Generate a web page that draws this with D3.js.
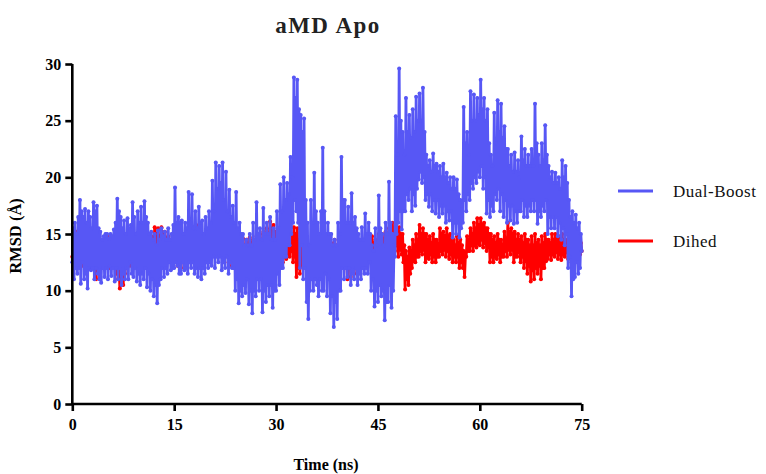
<!DOCTYPE html>
<html>
<head>
<meta charset="utf-8">
<script src="https://cdn.jsdelivr.net/npm/d3@7/dist/d3.min.js"></script>
<style>
  html, body { margin: 0; padding: 0; background: #fff; }
  svg { display: block; }
</style>
</head>
<body>
<svg id="chart" width="766" height="474"></svg>
<script>
// RMSD traces sampled every 0.125 ns from 0 to 75 ns (8 samples per ns per row)
const timeStep = 0.125;

const dualBoost = [
  12.5, 15.5, 11.0, 16.0, 12.0, 15.0, 11.5, 16.5,
  12.0, 18.0, 10.6, 17.0, 12.5, 16.5, 11.0, 17.2,
  11.5, 16.0, 10.2, 17.0, 12.0, 16.5, 11.8, 15.5,
  12.0, 17.8, 11.0, 17.0, 12.0, 17.5, 11.5, 15.5,
  11.0, 15.2, 10.7, 14.5, 12.0, 14.8, 11.2, 15.0,
  12.0, 15.0, 11.0, 14.6, 12.2, 15.0, 11.3, 14.8,
  12.0, 15.4, 10.8, 16.0, 12.0, 18.1, 11.0, 17.0,
  12.0, 16.5, 10.5, 15.5, 11.5, 16.2, 11.0, 15.0,
  12.0, 16.4, 11.0, 15.5, 12.5, 15.8, 11.5, 17.8,
  11.2, 16.5, 12.0, 15.0, 10.8, 17.0, 11.5, 16.0,
  10.5, 17.4, 11.5, 16.0, 11.0, 17.9, 12.0, 16.5,
  10.3, 16.0, 11.5, 15.0, 10.0, 15.2, 11.0, 14.5,
   9.5, 15.0, 10.5, 14.0,  8.9, 15.3, 10.5, 14.5,
  11.0, 15.5, 12.0, 14.8, 11.2, 15.2, 12.0, 14.5,
  11.5, 15.5, 12.5, 14.5, 11.8, 15.0, 12.0, 15.8,
  12.0, 19.1, 12.5, 16.0, 12.2, 16.5, 11.5, 16.0,
  11.5, 16.2, 12.5, 15.0, 11.8, 16.0, 12.0, 15.5,
  11.5, 18.7, 12.5, 16.0, 12.0, 18.5, 12.5, 15.5,
  11.5, 17.0, 12.0, 15.5, 11.2, 17.4, 12.0, 16.0,
  11.0, 16.2, 12.0, 15.0, 11.5, 16.5, 12.5, 15.5,
  12.0, 17.0, 12.5, 16.0, 12.2, 19.7, 13.0, 17.0,
  12.0, 21.3, 13.0, 19.0, 12.5, 21.0, 13.0, 19.5,
  11.8, 21.3, 12.5, 18.0, 12.0, 20.5, 13.0, 17.0,
  11.5, 18.9, 12.5, 16.5, 12.0, 17.5, 12.0, 16.0,
  10.0, 18.7, 11.0, 15.5,  8.9, 16.0, 10.0, 15.0,
   9.5, 15.0, 10.5, 14.0,  9.8, 14.5, 11.0, 14.0,
   8.8, 15.0, 10.0, 14.0,  8.0, 16.0, 10.0, 14.5,
   9.5, 17.8, 11.0, 15.0, 10.0, 15.5, 11.0, 14.5,
   8.1, 17.3, 10.0, 15.0,  9.0, 16.0, 10.5, 15.0,
   9.5, 16.5, 10.5, 14.5,  8.5, 15.5, 10.0, 14.5,
  10.0, 17.0, 11.5, 15.5, 10.5, 19.4, 12.0, 17.0,
  12.0, 20.0, 13.0, 18.0, 13.0, 19.5, 14.0, 18.5,
  14.0, 21.8, 15.0, 20.0, 16.0, 28.8, 18.0, 27.0,
  17.0, 28.6, 16.0, 26.0, 12.0, 25.5, 14.0, 24.0,
  11.0, 25.2, 12.0, 18.0,  9.0, 16.0,  7.5, 14.0,
  10.0, 18.0, 11.0, 16.0, 10.0, 20.4, 11.0, 17.0,
  10.5, 16.0,  9.5, 15.0, 11.0, 17.0, 10.0, 22.6,
  10.0, 17.0, 11.5, 15.0,  9.5, 16.0, 11.0, 15.0,
   8.0, 15.0,  9.5, 14.0,  6.8, 14.5,  9.0, 14.0,
   7.5, 16.0, 10.0, 15.0, 10.0, 21.8, 12.0, 18.0,
  11.0, 18.0, 12.0, 16.0, 11.2, 17.4, 12.0, 16.0,
  10.5, 18.6, 11.5, 16.0, 11.0, 16.5, 12.0, 15.5,
  10.5, 15.0, 11.5, 14.5, 11.0, 15.6, 12.0, 14.5,
  11.5, 16.8, 12.0, 15.0, 11.5, 16.0, 12.5, 15.0,
  10.0, 14.0, 11.0, 13.5,  8.6, 15.5, 10.0, 14.0,
   9.0, 18.4, 10.5, 15.5,  9.5, 15.0, 10.0, 14.0,
   7.4, 16.0,  9.0, 15.0,  9.0, 19.6, 10.5, 16.0,
   8.5, 15.0, 10.0, 14.0, 13.0, 25.4, 15.0, 22.0,
  16.0, 29.6, 17.0, 25.0, 15.4, 24.0, 17.0, 22.0,
  17.0, 27.0, 18.5, 24.0, 18.0, 25.5, 19.0, 23.5,
  17.0, 26.0, 18.5, 24.0, 17.5, 27.1, 19.0, 25.0,
  19.8, 27.4, 20.5, 25.0, 19.5, 27.9, 20.0, 24.0,
  18.0, 22.0, 18.5, 21.0, 17.4, 21.5, 18.5, 20.5,
  17.0, 22.1, 18.0, 21.0, 16.8, 21.2, 18.0, 20.5,
  16.5, 21.0, 17.5, 20.0, 16.8, 21.2, 17.5, 20.0,
  16.0, 20.4, 17.0, 19.5, 16.2, 20.0, 17.0, 19.0,
  14.7, 20.0, 16.0, 19.0, 15.0, 19.8, 16.0, 18.5,
  14.7, 18.0, 15.5, 17.5, 16.0, 26.2, 18.0, 23.0,
  17.0, 24.0, 18.5, 22.0, 18.0, 27.6, 19.5, 25.0,
  19.0, 27.3, 20.0, 25.0, 19.5, 27.0, 20.5, 25.5,
  20.0, 28.6, 21.0, 26.0, 19.0, 27.0, 20.0, 25.0,
  16.8, 26.0, 18.0, 23.0, 16.5, 22.0, 17.5, 21.0,
  17.0, 25.7, 18.5, 23.0, 18.0, 26.8, 19.0, 24.0,
  17.0, 26.5, 18.5, 23.5, 16.5, 24.5, 18.0, 22.5,
  16.0, 22.5, 17.5, 21.0, 16.2, 22.0, 17.5, 20.5,
  15.9, 22.2, 17.0, 20.5, 16.0, 21.5, 17.0, 20.0,
  17.0, 23.6, 18.0, 21.5, 16.5, 22.5, 17.5, 21.0,
  16.5, 22.0, 17.5, 21.0, 17.0, 22.5, 18.0, 21.0,
  17.0, 26.5, 18.0, 23.0, 15.9, 22.0, 17.0, 21.0,
  16.5, 23.0, 17.5, 21.5, 17.0, 24.6, 18.0, 22.0,
  15.0, 21.0, 16.5, 20.0, 15.5, 20.5, 16.5, 19.5,
  15.5, 20.4, 16.5, 19.5, 14.8, 20.0, 16.0, 19.0,
  14.5, 21.5, 15.5, 20.0, 14.0, 21.0, 15.0, 19.5,
  12.0, 18.0, 13.0, 16.5,  9.5, 17.0, 11.0, 16.0,
  11.2, 16.7, 12.5, 15.5, 11.5, 16.0, 12.0, 15.0,
  13.5
];

const dihed = [
  13.0, 15.0, 13.5, 14.5, 12.5, 15.2, 13.2, 14.5,
  12.5, 14.8, 13.0, 14.2, 12.2, 15.0, 13.0, 14.5,
  12.8, 14.5, 13.2, 14.0, 12.0, 14.0, 12.8, 13.8,
  12.1, 13.9, 12.5, 13.5, 11.0, 13.5, 11.8, 13.2,
  11.2, 14.0, 12.5, 13.8, 12.0, 14.5, 12.8, 14.0,
  12.5, 14.8, 13.0, 14.2, 12.0, 14.2, 12.8, 13.8,
  12.5, 14.5, 12.8, 13.8, 11.5, 13.0, 11.0, 12.5,
  10.2, 12.4, 10.8, 12.0, 10.5, 13.0, 11.5, 12.8,
  12.0, 14.0, 12.5, 13.5, 12.2, 13.8, 12.6, 13.4,
  12.0, 14.0, 12.5, 13.6, 12.3, 14.5, 12.8, 14.0,
  12.5, 14.8, 13.0, 14.2, 12.0, 15.0, 12.8, 14.5,
  12.5, 14.5, 13.0, 14.0, 12.2, 14.8, 13.0, 14.2,
  12.8, 15.6, 13.5, 15.0, 13.0, 15.5, 13.5, 14.8,
  13.2, 15.6, 13.8, 15.0, 13.0, 15.2, 13.5, 14.6,
  12.5, 14.8, 13.0, 14.2, 12.8, 14.5, 13.2, 14.0,
  12.5, 15.0, 13.0, 14.5, 12.2, 14.8, 12.8, 14.2,
  12.0, 14.5, 12.8, 14.0, 12.5, 15.0, 13.0, 14.4,
  12.5, 14.8, 13.0, 14.2, 12.8, 15.2, 13.4, 14.6,
  13.0, 15.5, 13.5, 15.0, 13.2, 15.8, 13.6, 15.0,
  12.8, 15.0, 13.2, 14.5, 12.5, 14.8, 13.0, 14.2,
  12.5, 15.0, 13.0, 14.5, 13.0, 15.2, 13.5, 14.8,
  13.5, 15.9, 14.0, 15.2, 13.5, 15.8, 14.0, 15.2,
  13.5, 15.5, 13.8, 15.0, 13.0, 15.0, 13.4, 14.5,
  12.5, 14.8, 13.0, 14.2, 12.2, 14.5, 12.8, 14.0,
  12.0, 14.5, 12.6, 14.0, 12.5, 14.8, 13.0, 14.2,
  12.5, 14.6, 13.0, 14.0, 12.8, 14.5, 13.2, 14.0,
  13.0, 14.7, 13.4, 14.2, 12.5, 14.5, 13.0, 14.0,
  12.5, 14.8, 13.0, 14.4, 12.8, 15.0, 13.3, 14.5,
  13.0, 15.2, 13.5, 14.8, 13.2, 15.5, 13.8, 15.0,
  14.0, 16.1, 14.5, 15.5, 14.0, 15.8, 14.2, 15.2,
  13.0, 15.0, 13.5, 14.5, 12.8, 14.8, 13.2, 14.2,
  12.5, 14.5, 13.0, 14.0, 12.8, 15.0, 13.2, 14.5,
  13.0, 15.5, 13.5, 15.0, 12.5, 15.6, 13.0, 15.0,
  11.2, 15.5, 12.0, 14.5, 11.5, 15.0, 12.2, 14.5,
  12.0, 14.5, 12.6, 14.0, 12.2, 14.0, 12.8, 13.6,
  12.5, 13.8, 12.0, 13.5, 11.2, 13.5, 12.0, 13.8,
  12.0, 14.5, 12.8, 14.0, 12.5, 14.2, 13.0, 13.8,
  12.8, 14.5, 13.2, 14.0, 12.5, 14.8, 13.0, 14.2,
  12.5, 14.2, 13.0, 13.8, 12.8, 14.5, 13.2, 14.0,
  12.2, 14.0, 12.8, 13.6, 12.5, 14.5, 13.0, 14.0,
  12.0, 14.5, 12.6, 13.8, 11.0, 14.2, 12.0, 13.5,
  11.2, 14.5, 12.0, 13.8, 11.5, 13.5, 12.0, 13.2,
  12.5, 14.2, 13.0, 13.8, 12.8, 14.5, 13.2, 14.0,
  12.5, 14.0, 13.0, 13.6, 12.8, 14.5, 13.2, 14.0,
  13.0, 14.8, 13.4, 14.2, 12.8, 14.5, 13.2, 14.0,
  13.2, 15.0, 13.6, 14.5, 13.5, 15.0, 13.8, 14.6,
  13.5, 15.2, 14.0, 14.8, 13.8, 15.5, 14.2, 15.0,
  14.5, 16.0, 14.8, 15.4, 13.5, 15.6, 14.0, 15.2,
  13.0, 15.6, 13.6, 15.0, 13.2, 15.0, 12.5, 14.0,
  10.1, 13.5, 11.0, 13.0, 10.5, 13.8, 11.5, 13.5,
  12.0, 14.5, 12.6, 14.0, 12.5, 15.0, 13.0, 14.5,
  13.0, 15.8, 13.5, 15.0, 13.2, 15.5, 13.6, 15.0,
  12.5, 15.0, 13.0, 14.5, 12.8, 14.8, 13.2, 14.2,
  12.5, 15.0, 13.0, 14.5, 12.5, 14.5, 13.0, 14.0,
  13.0, 15.5, 13.5, 15.0, 13.2, 15.2, 13.6, 14.8,
  13.0, 15.5, 13.5, 14.8, 12.8, 15.0, 13.2, 14.5,
  12.5, 14.5, 13.0, 14.0, 12.5, 14.8, 13.0, 14.2,
  12.0, 14.5, 12.5, 14.0, 12.0, 13.5, 11.2, 13.0,
  13.0, 14.8, 13.5, 14.5, 13.5, 15.5, 14.0, 15.0,
  13.5, 16.0, 14.0, 15.5, 13.8, 16.4, 14.2, 15.8,
  14.0, 16.4, 14.5, 15.8, 13.8, 16.0, 14.2, 15.5,
  13.5, 15.5, 13.8, 15.0, 12.5, 15.0, 13.0, 14.5,
  12.5, 14.8, 13.0, 14.2, 12.8, 15.0, 13.2, 14.5,
  12.5, 14.5, 13.0, 14.0, 13.0, 15.2, 13.5, 14.6,
  13.0, 16.0, 13.6, 15.2, 13.2, 15.5, 13.6, 15.0,
  12.5, 15.2, 13.0, 14.5, 13.0, 15.0, 13.4, 14.5,
  12.5, 14.8, 13.0, 14.2, 12.0, 15.0, 12.6, 14.5,
  11.5, 14.5, 12.2, 14.0, 10.8, 14.8, 11.8, 14.0,
  11.0, 15.0, 12.0, 14.2, 11.5, 14.5, 12.2, 14.0,
  11.0, 14.8, 12.0, 14.2, 12.0, 15.0, 12.6, 14.5,
  12.8, 14.5, 13.2, 14.2, 12.7, 15.0, 13.2, 14.5,
  13.0, 15.0, 13.4, 14.5, 12.8, 14.8, 13.2, 14.2,
  12.7, 15.0, 13.2, 14.5, 13.0, 14.5, 13.4, 14.0,
  12.8, 14.8, 13.2, 14.2, 12.5, 14.5, 13.0, 14.0,
  12.5, 14.5, 13.0, 14.0, 12.8, 14.8, 13.2, 14.2,
  13.5
];

const xTicks = [0, 15, 30, 45, 60, 75];
const yTicks = [0, 5, 10, 15, 20, 25, 30];
const seriesNames = ["Dual-Boost", "Dihed"];
const seriesColors = ["#5757f5", "#ff0000"];

const svg = d3.select("#chart");
const serif = "'Liberation Serif', 'Times New Roman', serif";

const x = d3.scaleLinear().domain([0, 75]).range([72.3, 581.7]);
const y = d3.scaleLinear().domain([0, 30]).range([404, 64]);

const toPoints = vals => vals.map((v, i) => [i * timeStep, v]);
const line = d3.line().x(d => x(d[0])).y(d => y(d[1]));

// Dihed underneath, Dual-Boost drawn over it
const traces = [
  { name: seriesNames[1], color: seriesColors[1], pts: toPoints(dihed) },
  { name: seriesNames[0], color: seriesColors[0], pts: toPoints(dualBoost) }
];

traces.forEach(s => {
  const g = svg.append("g");
  g.append("path")
    .datum(s.pts)
    .attr("d", line)
    .attr("fill", "none")
    .attr("stroke", s.color)
    .attr("stroke-width", 2.8)
    .attr("stroke-linejoin", "round");
  g.selectAll("circle")
    .data(s.pts)
    .join("circle")
    .attr("cx", d => x(d[0]))
    .attr("cy", d => y(d[1]))
    .attr("r", 2.0)
    .attr("fill", s.color);
});

// Axes
const xAxis = d3.axisBottom(x).tickValues(xTicks).tickSize(7).tickPadding(8).tickFormat(d3.format("d"));
const yAxis = d3.axisLeft(y).tickValues(yTicks).tickSize(7).tickPadding(4).tickFormat(d3.format("d"));

const gx = svg.append("g").attr("transform", "translate(0,404)").call(xAxis);
const gy = svg.append("g").attr("transform", "translate(72.3,0)").call(yAxis);

[gx, gy].forEach(g => {
  g.select(".domain").attr("stroke", "#000").attr("stroke-width", 2.6);
  g.selectAll(".tick line").attr("stroke", "#000").attr("stroke-width", 2.6);
  g.selectAll(".tick text")
    .attr("fill", "#000")
    .style("font-family", serif)
    .style("font-weight", "bold")
    .style("font-size", "16px");
});
gx.select(".domain").attr("d", "M72.3,0H581.7");
gy.select(".domain").attr("d", "M0,404V64");

// Title and axis titles
svg.append("text")
  .attr("x", 328).attr("y", 33)
  .attr("text-anchor", "middle")
  .style("font-family", serif)
  .style("font-weight", "bold")
  .style("font-size", "23px")
  .style("letter-spacing", "1.5px")
  .attr("fill", "#222")
  .text("aMD Apo");

svg.append("text")
  .attr("x", 326).attr("y", 470)
  .attr("text-anchor", "middle")
  .style("font-family", serif)
  .style("font-weight", "bold")
  .style("font-size", "16px")
  .text("Time (ns)");

svg.append("text")
  .attr("transform", "translate(21,236) rotate(-90)")
  .attr("text-anchor", "middle")
  .style("font-family", serif)
  .style("font-weight", "bold")
  .style("font-size", "16.5px")
  .text("RMSD (Å)");

// Legend
const legend = svg.append("g");
seriesNames.forEach((name, i) => {
  const ly = 191 + i * 50;
  legend.append("line")
    .attr("x1", 618).attr("x2", 653)
    .attr("y1", ly).attr("y2", ly)
    .attr("stroke", seriesColors[i])
    .attr("stroke-width", 3);
  legend.append("text")
    .attr("x", 673).attr("y", ly + 6)
    .style("font-family", serif)
    .style("font-size", "17px")
    .style("letter-spacing", "0.5px")
    .attr("fill", "#111")
    .text(name);
});
</script>
</body>
</html>
